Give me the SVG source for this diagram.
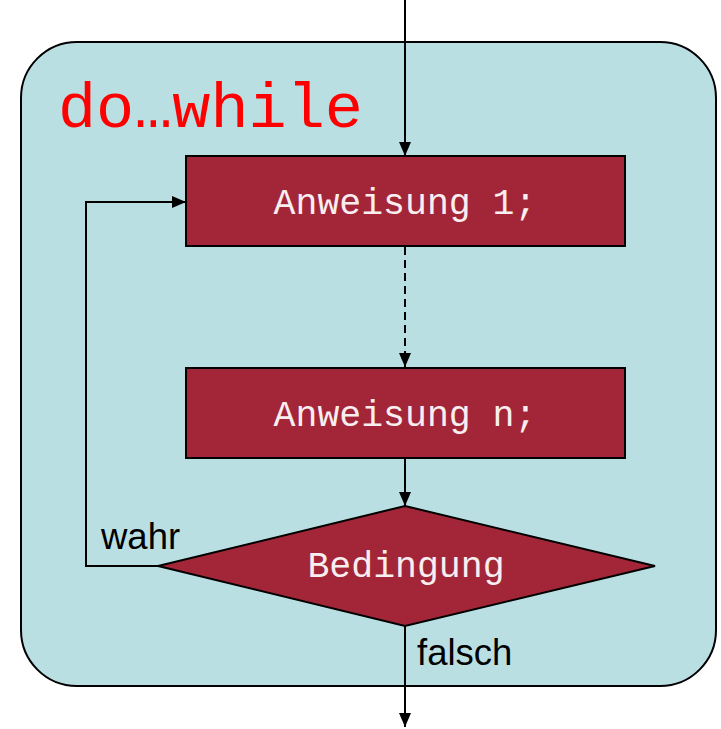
<svg xmlns="http://www.w3.org/2000/svg" width="721" height="729" viewBox="0 0 721 729">
  <style>
    .frame { fill: #B9DFE3; stroke: #000; stroke-width: 2; }
    .step { fill: #A32638; stroke: #000; stroke-width: 2; }
    .code { font-family: "Liberation Mono", "Courier New", monospace; font-size: 36.5px; fill: #F8EEF0; text-anchor: middle; }
    .label { font-family: "Liberation Sans", Arial, sans-serif; font-size: 36.5px; fill: #000; }
    .flow { fill: none; stroke: #000; stroke-width: 2; }
    .dashed { stroke-dasharray: 8 5; }
  </style>
  <defs>
    <marker id="arrow" viewBox="0 0 14 12" refX="14" refY="6" markerWidth="14" markerHeight="12" markerUnits="userSpaceOnUse" orient="auto">
      <path d="M0,0 L14,6 L0,12 Z" fill="#000"/>
    </marker>
  </defs>

  <!-- surrounding loop frame -->
  <g id="frame">
    <rect class="frame" x="21" y="42" width="695" height="644" rx="56" ry="56"/>
    <text x="58" y="127" font-family="'Liberation Mono', 'Courier New', monospace" font-size="63.5" fill="#FF0000">do…while</text>
  </g>

  <g id="statement1">
    <rect class="step" x="186" y="156" width="439" height="90"/>
    <text class="code" x="405" y="214">Anweisung 1;</text>
  </g>

  <g id="statementN">
    <rect class="step" x="186" y="368" width="439" height="90"/>
    <text class="code" x="405" y="426">Anweisung n;</text>
  </g>

  <g id="condition">
    <polygon class="step" points="405,506 655,566 405,626 158,566"/>
    <text class="code" x="406" y="577">Bedingung</text>
  </g>

  <g id="connectors">
    <line class="flow" x1="405" y1="0" x2="405" y2="156" marker-end="url(#arrow)"/>
    <line class="flow dashed" x1="405" y1="247" x2="405" y2="367" marker-end="url(#arrow)"/>
    <line class="flow" x1="405" y1="458" x2="405" y2="506" marker-end="url(#arrow)"/>
    <polyline class="flow" points="158,566 86,566 86,202 186,202" marker-end="url(#arrow)"/>
    <line class="flow" x1="405" y1="626" x2="405" y2="727" marker-end="url(#arrow)"/>
    <text class="label" x="101" y="549">wahr</text>
    <text class="label" x="417" y="665">falsch</text>
  </g>
</svg>
